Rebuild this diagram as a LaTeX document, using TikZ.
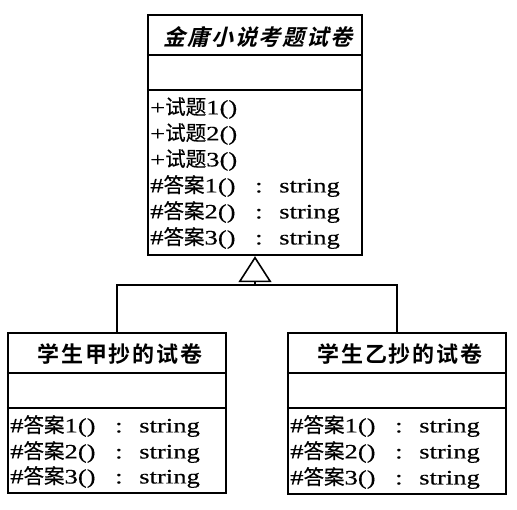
\documentclass[tikz,border=0pt]{standalone}
\usepackage{fontspec}
\setmainfont{Liberation Serif}
\newfontfamily\cjk[FakeBold=0.3]{Noto Sans CJK SC}
\newfontfamily\cjkbf[LetterSpace=8]{Noto Sans CJK SC Bold}
\newfontfamily\cjkbfit[LetterSpace=8,FakeSlant=0.25]{Noto Sans CJK SC Bold}
\newfontfamily\lat[FakeStretch=1.3,FakeBold=0.4]{Liberation Serif}
\usetikzlibrary{arrows.meta}
\newcommand\opline[1]{{\lat +}{\cjk 试题}{\lat #1()}}
\newcommand\sigline[1]{\makebox[105pt][l]{{\lat \#}{\cjk 答案}{\lat #1()}}\makebox[24pt][l]{\lat :}{\lat string}}
\tikzset{
  cls/.style={draw, line width=2.4pt, inner sep=0pt},
  sep/.style={line width=2.2pt},
  ttl/.style={inner sep=0pt, font=\fontsize{22}{22}\selectfont},
  mem/.style={inner sep=0pt, anchor=west, font=\fontsize{20.5}{20.5}\selectfont},
  gen/.style={line width=1.6pt},
}
\begin{document}
\begin{tikzpicture}[x=1pt,y=-1pt]
\useasboundingbox[fill=white] (0,0) rectangle (517,510);
% classes
\node[cls, minimum width=214pt, minimum height=240pt] (top) at (255,135) {};
\node[cls, minimum width=218pt, minimum height=160pt] (lft) at (117,413) {};
\node[cls, minimum width=218pt, minimum height=161pt] (rgt) at (397,413.5) {};
% separators
\draw[sep] (top.west |- 0,55) -- (top.east |- 0,55);
\draw[sep] (top.west |- 0,90) -- (top.east |- 0,90);
\draw[sep] (lft.west |- 0,373) -- (lft.east |- 0,373);
\draw[sep] (lft.west |- 0,408) -- (lft.east |- 0,408);
\draw[sep] (rgt.west |- 0,373) -- (rgt.east |- 0,373);
\draw[sep] (rgt.west |- 0,408) -- (rgt.east |- 0,408);
% titles
\node[ttl] (ttop) at (258,37) {\cjkbfit 金庸小说考题试卷};
\node[ttl] (tlft) at (120,354) {\cjkbf 学生甲抄的试卷};
\node[ttl] (trgt) at (400,354) {\cjkbf 学生乙抄的试卷};
% members top
\node[mem] (m1) at (150,108) {\opline{1}};
\node[mem] (m2) at (150,134) {\opline{2}};
\node[mem] (m3) at (150,160) {\opline{3}};
\node[mem] (m4) at (150,186) {\sigline{1}};
\node[mem] (m5) at (150,212) {\sigline{2}};
\node[mem] (m6) at (150,238) {\sigline{3}};
% members left
\node[mem] (l1) at (10,426) {\sigline{1}};
\node[mem] (l2) at (10,452) {\sigline{2}};
\node[mem] (l3) at (10,477) {\sigline{3}};
% members right
\node[mem] (r1) at (290,426) {\sigline{1}};
\node[mem] (r2) at (290,452) {\sigline{2}};
\node[mem] (r3) at (290,478) {\sigline{3}};
% generalization
\coordinate (hub) at (255,285);
\draw[gen] (lft.north) -- (lft.north |- hub) -- (rgt.north |- hub) -- (rgt.north);
\draw[gen, -{Triangle[open, length=26pt, width=33pt, line width=1.6pt]}] (hub) -- (top.south);
\end{tikzpicture}
\end{document}
